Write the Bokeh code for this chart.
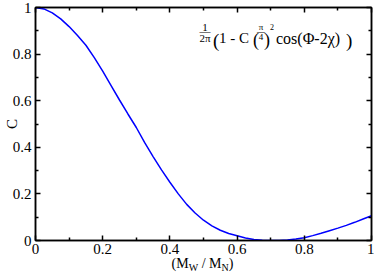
import math
from bokeh.plotting import figure
from bokeh.models import LinearAxis, Label, Range1d, FixedTicker, CustomJSTickFormatter, Div
from bokeh.layouts import column
from bokeh.embed import file_html
from bokeh.resources import INLINE

# ---- data ----
ratio = [0.000, 0.025, 0.050, 0.075, 0.100, 0.125, 0.150, 0.175, 0.200, 0.225,
         0.250, 0.275, 0.300, 0.325, 0.350, 0.375, 0.400, 0.425, 0.450, 0.475,
         0.500, 0.525, 0.550, 0.575, 0.600, 0.625, 0.650, 0.675, 0.700, 0.725,
         0.750, 0.775, 0.800, 0.825, 0.850, 0.875, 0.900, 0.925, 0.950, 0.975, 1.000]
c_vals = [1.000, 0.994, 0.977, 0.951, 0.918, 0.880, 0.838, 0.785, 0.727, 0.665,
          0.603, 0.543, 0.485, 0.420, 0.360, 0.303, 0.250, 0.200, 0.155, 0.118,
          0.087, 0.063, 0.044, 0.030, 0.020, 0.011, 0.004, 0.001, 0.000, 0.000,
          0.002, 0.006, 0.012, 0.021, 0.031, 0.042, 0.053, 0.065, 0.078, 0.092, 0.106]

major_ticks = [0, 0.2, 0.4, 0.6, 0.8, 1.0]
minor_ticks = [0.1, 0.3, 0.5, 0.7, 0.9]
tick_labels = ["0", "0.2", "0.4", "0.6", "0.8", "1"]

FONT = "Liberation Serif"

p = figure(width=374, height=260, output_backend="svg", toolbar_location=None,
           x_range=Range1d(0, 1), y_range=Range1d(0, 1),
           min_border_left=34, min_border_right=3, min_border_top=7, min_border_bottom=20)
p.background_fill_color = "white"
p.border_fill_color = "white"
p.outline_line_color = "black"
p.outline_line_width = 1.5
p.xgrid.visible = False
p.ygrid.visible = False

p.line(ratio, c_vals, line_color="#0000ff", line_width=1.5)

overrides = {t: l for t, l in zip(major_ticks, tick_labels)}

def style_axis(ax, labels=True, standoff=3):
    ax.ticker = FixedTicker(ticks=major_ticks, minor_ticks=minor_ticks)
    ax.axis_line_color = "black"
    ax.axis_line_width = 1.5
    ax.major_tick_in = 5
    ax.major_tick_out = 0
    ax.minor_tick_in = 3
    ax.minor_tick_out = 0
    ax.major_tick_line_color = "black"
    ax.minor_tick_line_color = "black"
    ax.major_tick_line_width = 1.5
    ax.minor_tick_line_width = 1.5
    if labels:
        ax.major_label_overrides = overrides
        ax.major_label_text_font = FONT
        ax.major_label_text_font_size = "15px"
        ax.major_label_text_color = "black"
        ax.major_label_standoff = standoff
    else:
        ax.formatter = CustomJSTickFormatter(code="return ''")
        ax.major_label_text_font_size = "0px"
        ax.major_label_standoff = 0

style_axis(p.xaxis[0], standoff=3)
style_axis(p.yaxis[0], standoff=4)
p.yaxis[0].axis_label = "C"
p.yaxis[0].axis_label_text_font = FONT
p.yaxis[0].axis_label_text_font_size = "15px"
p.yaxis[0].axis_label_text_font_style = "normal"
p.yaxis[0].axis_label_text_color = "black"
p.yaxis[0].axis_label_standoff = -10

top_ax = LinearAxis()
right_ax = LinearAxis()
style_axis(top_ax, labels=False)
style_axis(right_ax, labels=False)
p.add_layout(top_ax, "above")
p.add_layout(right_ax, "right")

def lab(text, x, y, dx, dy, size, align="left"):
    p.add_layout(Label(x=x, y=y, x_offset=dx, y_offset=dy, text=text,
                       text_font=FONT, text_font_size=f"{size}px", text_color="black",
                       text_align=align, text_baseline="alphabetic"))

# formula annotation: 1/(2pi) (1 - C (pi/4)^2 cos(Phi-2chi))
FX, FY = 0.4896, 0.868
lab("1", FX, FY, 5, 11, 11, align="center")
lab("\u2014", FX, FY, 5, 7, 11, align="center")
lab("2\u03c0", FX, FY, 5, 0, 11, align="center")
lab("(", FX, FY, 13, -2.2, 19)
lab("1 - C", FX, FY, 19, 0, 15)
lab("(", FX, FY, 53, -2, 18)
lab("\u03c0", FX, FY, 61, 11.7, 9, align="center")
lab("\u2014", FX, FY, 61, 7, 8, align="center")
lab("4", FX, FY, 61, 1, 9, align="center")
lab(")", FX, FY, 64, -2, 18)
lab("2", FX, FY, 70, 11.5, 8)
lab("cos(\u03a6-2\u03c7)", FX, FY, 76, 0, 16)
lab(")", FX, FY, 146, -2.2, 19)

# x-axis title with subscripts, as HTML text under the frame
xtitle = Div(
    text=('<div style="position:relative; top:-4px; width:337px; text-align:center; '
          'font-family:\'Liberation Serif\'; font-size:14px; line-height:13px; color:black;">'
          '(M<span style="font-size:10px; position:relative; top:3px;">W</span> / '
          'M<span style="font-size:10px; position:relative; top:3px;">N</span>)</div>'),
    width=337, height=13, margin=(0, 0, 0, 34))

layout = column(p, xtitle, spacing=0)
open("out.html", "w").write(file_html(layout, INLINE))
